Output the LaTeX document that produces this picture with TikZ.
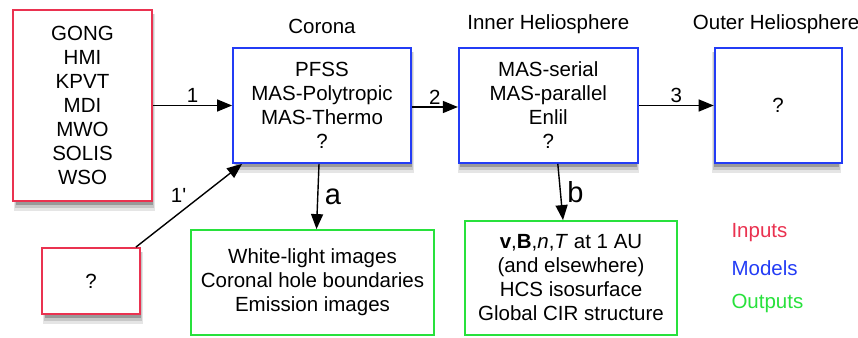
\documentclass[tikz,border=0pt]{standalone}
\usepackage{fontspec}
\setmainfont{Liberation Sans}
\usetikzlibrary{arrows.meta,positioning}
\definecolor{inred}{RGB}{234,50,80}
\definecolor{modblue}{RGB}{35,60,245}
\definecolor{outgreen}{RGB}{40,225,60}
\tikzset{
  link/.style={-{Triangle[length=15pt,width=12pt]},line width=1.4pt,draw=black},
  box/.style={draw,line width=1.8pt,fill=white,align=center,
              font=\fontsize{20.5}{24}\selectfont},
  inbox/.style={box,draw=inred},
  modbox/.style={box,draw=modblue},
  outbox/.style={box,draw=outgreen},
  heading/.style={font=\fontsize{20.5}{24}\selectfont},
  num/.style={font=\fontsize{20.5}{24}\selectfont,inner sep=2pt},
  big/.style={font=\fontsize{29}{32}\selectfont}
}

\begin{document}
\begin{tikzpicture}[x=1pt,y=1pt]
  \useasboundingbox (0,0) rectangle (858,337);
  % soft shadows under inputs and models
  \foreach \cx/\cy/\w/\h in {82.5/231.5/139/191, 322/231.5/178/115,
      546.5/231.5/179/115, 774.5/231.5/127/115, 91/56/98/66} {
    \fill[black!10] (\cx-\w/2+1,\cy-\h/2-10) rectangle (\cx+\w/2+3,\cy+\h/2-4);
    \fill[black!22] (\cx-\w/2+2,\cy-\h/2-7) rectangle (\cx+\w/2+2,\cy+\h/2-4);
    \fill[black!40] (\cx-\w/2+3,\cy-\h/2-4) rectangle (\cx+\w/2+1,\cy+\h/2-4);
  }

  \node[inbox,minimum width=139pt,minimum height=191pt] (obs) at (82.5,231.5)
    {GONG\\HMI\\KPVT\\MDI\\MWO\\SOLIS\\WSO};
  \node[modbox,minimum width=178pt,minimum height=115pt] (corona) at (322,231.5)
    {PFSS\\MAS-Polytropic\\MAS-Thermo\\?};
  \node[modbox,minimum width=179pt,minimum height=115pt,right=46pt of corona] (inner)
    {MAS-serial\\MAS-parallel\\Enlil\\?};
  \node[modbox,minimum width=127pt,minimum height=115pt,right=75pt of inner] (outer) {?};
  \node[inbox,minimum width=98pt,minimum height=66pt] (other) at (91,56) {?};
  \node[outbox,minimum width=243pt,minimum height=105pt] (coronaout) at (312.5,54.5)
    {White-light images\\Coronal hole boundaries\\Emission images};
  \node[outbox,minimum width=212pt,minimum height=114pt] (helioout) at (571,59)
    {\textbf{v},\textbf{B},\textit{n},\textit{T} at 1 AU\\(and elsewhere)\\HCS isosurface\\Global CIR structure};

  \node[heading,above=10pt of corona] {Corona};
  \node[heading,above=10pt of inner] {Inner Heliosphere};
  \node[heading,above=10pt of outer,xshift=-2pt] {Outer Heliosphere};

  \draw[link] (obs) -- node[num,above] {1} (corona);
  \draw[link] ([yshift=-1.5pt]corona.east) -- node[num,above] {2} ([yshift=-1.5pt]inner.west);
  \draw[link] (inner) -- node[num,above] {3} (outer);
  \draw[link] ([xshift=-5pt]other.north east) -- node[num,above left=0pt] {1\textquotesingle}
    ([xshift=10pt]corona.south west);
  \draw[link] ([xshift=-3pt]corona.south) -- node[big,right=3pt] {a} ([xshift=4pt]coronaout.north);
  \draw[link] ([xshift=9.5pt]inner.south) -- node[big,right=3pt] {b} ([xshift=-8pt]helioout.north);

  \node[heading,text=inred,anchor=west] (lin) at (728,104) {Inputs};
  \node[heading,text=modblue,anchor=west] (lmod) at (728,69) {Models};
  \node[heading,text=outgreen,anchor=west] (lout) at (728,34) {Outputs};
\end{tikzpicture}
\end{document}
